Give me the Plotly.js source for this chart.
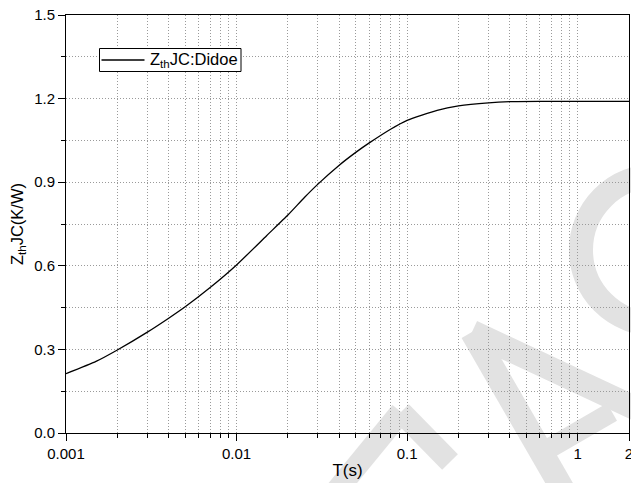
<!DOCTYPE html>
<html>
<head>
<meta charset="utf-8">
<script src="https://cdn.plot.ly/plotly-3.0.1.min.js"></script>
<style>html,body{margin:0;padding:0;background:#fff;}#chart{width:631px;height:483px;}</style>
</head>
<body>
<div id="chart"></div>
<script>
// ---- data ----
const timeS = [0.001, 0.0015, 0.002, 0.003, 0.004, 0.005, 0.007, 0.01, 0.015, 0.02, 0.025, 0.03, 0.04, 0.05, 0.06, 0.08, 0.1, 0.15, 0.2, 0.3, 0.4, 0.6, 1, 2];
const zthJC = [0.213, 0.257, 0.298, 0.362, 0.412, 0.453, 0.522, 0.603, 0.708, 0.782, 0.845, 0.893, 0.961, 1.007, 1.041, 1.090, 1.122, 1.158, 1.174, 1.185, 1.189, 1.190, 1.190, 1.190];
const seriesName = 'Z<sub>th</sub>JC:Didoe';
const xTickVals = [0.001, 0.01, 0.1, 1, 2];
const xTickText = ['0.001', '0.01', '0.1', '1', '2'];

// minor ticks 2..9 in each decade (axis decoration)
const minorX = [];
[0.001, 0.01, 0.1].forEach(d => { for (let k = 2; k <= 9; k++) minorX.push(+(d * k).toPrecision(3)); });

// ---- layout geometry ----
const W = 631, H = 483, ML = 66, MR = 2, MT = 15, MB = 50;
const PW = W - ML - MR, PH = H - MT - MB;
const px = x => (x - ML) / PW;
const py = y => (H - MB - y) / PH;

const wm = '#e2e2e2';
function wline(x0, y0, x1, y1, w) {
  return {type: 'line', xref: 'paper', yref: 'paper', layer: 'below',
    x0: px(x0), y0: py(y0), x1: px(x1), y1: py(y1), line: {color: wm, width: w}};
}
const shapes = [
  // faint watermark
  wline(472, 332, 665, 422, 24),
  wline(472, 332, 566, 495, 24),
  wline(543, 452, 612, 412, 20),
  wline(401, 412, 333, 495, 22),
  wline(401, 412, 450, 462, 22),
  {type: 'circle', xref: 'paper', yref: 'paper', layer: 'below',
    x0: px(655 - 74), x1: px(655 + 74), y0: py(250 + 74), y1: py(250 - 74),
    line: {color: wm, width: 24}},
  // legend box and its line sample
  {type: 'rect', xref: 'paper', yref: 'paper', layer: 'above',
    x0: px(99.5), x1: px(241), y0: py(48.5), y1: py(71.5),
    fillcolor: '#fff', line: {color: '#000', width: 1}},
  {type: 'line', xref: 'paper', yref: 'paper', layer: 'above',
    x0: px(101.5), x1: px(144.5), y0: py(60), y1: py(60),
    line: {color: '#000', width: 1.3}}
];

const gridC = '#9a9a9a';
const gridDash = '1px,2px';
const trace = {
  x: timeS, y: zthJC, type: 'scatter', mode: 'lines', name: seriesName,
  line: {color: '#000', width: 1.3, shape: 'spline', smoothing: 0.5},
  showlegend: false
};

const layout = {
  width: W, height: H,
  margin: {l: ML, r: MR, t: MT, b: MB},
  paper_bgcolor: '#fff', plot_bgcolor: 'rgba(0,0,0,0)',
  font: {family: 'Liberation Sans, Arial, sans-serif', size: 15, color: '#000'},
  showlegend: false,
  xaxis: {
    type: 'log', range: [Math.log10(0.001), Math.log10(2)],
    tickmode: 'array', tickvals: xTickVals, ticktext: xTickText,
    ticklabeloverflow: 'allow',
    ticks: 'outside', ticklen: 7, tickcolor: '#000', tickwidth: 1,
    showline: true, linecolor: '#000', linewidth: 1, mirror: true,
    showgrid: true, gridcolor: gridC, griddash: gridDash, gridwidth: 1,
    zeroline: false,
    minor: {tickmode: 'array', tickvals: minorX, ticks: 'outside', ticklen: 4, tickcolor: '#000',
      showgrid: true, gridcolor: gridC, griddash: gridDash, gridwidth: 1},
    title: {text: 'T(s)', font: {size: 17}, standoff: 3}
  },
  yaxis: {
    range: [0, 1.5], tick0: 0, dtick: 0.3, tickformat: '.1f',
    ticks: 'outside', ticklen: 7, tickcolor: '#000', tickwidth: 1,
    showline: true, linecolor: '#000', linewidth: 1, mirror: true,
    showgrid: true, gridcolor: gridC, griddash: gridDash, gridwidth: 1,
    zeroline: false,
    minor: {dtick: 0.15, ticks: 'outside', ticklen: 4, tickcolor: '#000',
      showgrid: true, gridcolor: gridC, griddash: gridDash, gridwidth: 1},
    title: {text: 'Z<sub>th</sub>JC(K/W)', font: {size: 16.5}, standoff: 6}
  },
  shapes: shapes,
  annotations: [{
    xref: 'paper', yref: 'paper', x: px(148), y: py(60),
    xanchor: 'left', yanchor: 'middle', showarrow: false,
    text: seriesName, font: {size: 16.5, color: '#000'}
  }]
};

Plotly.newPlot('chart', [trace], layout, {staticPlot: true, displayModeBar: false});
</script>
</body>
</html>
